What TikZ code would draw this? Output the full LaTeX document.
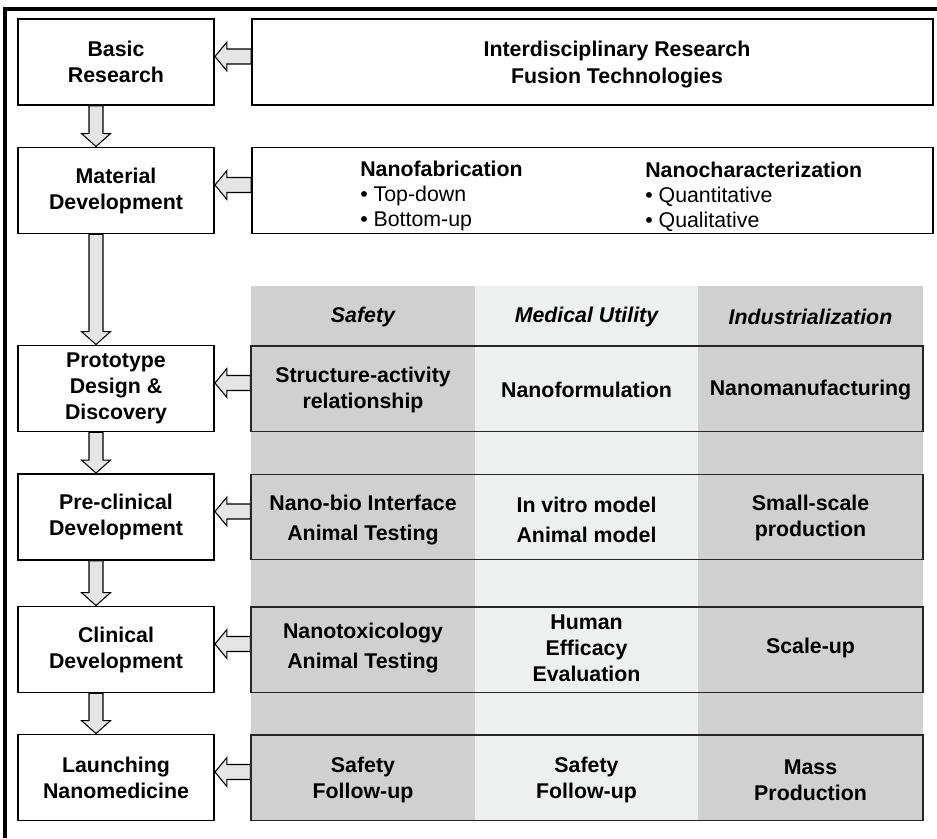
\documentclass[tikz,border=0pt]{standalone}
\usepackage{fontspec}
\setmainfont{Liberation Sans}
\usetikzlibrary{calc}
\pgfdeclarelayer{background}
\pgfsetlayers{background,main}
\definecolor{colgray}{HTML}{D0D0D0}
\definecolor{collight}{HTML}{EEF0EF}
\definecolor{arrowgray}{HTML}{E4E5E4}

% block arrow pointing down, from the bottom of #1 to the top of #2
\newcommand\vconn[2]{%
  \draw[blockarrow] ($(#1.south)+(-27,0)$) -- ($(#2.north)+(-27,-13)$)
    -- ($(#2.north)+(-34.5,-13)$) -- ($(#2.north)+(-20,0)$)
    -- ($(#2.north)+(-5.5,-13)$) -- ($(#2.north)+(-13,-13)$)
    -- ($(#1.south)+(-13,0)$) -- cycle;}
% block arrow pointing left, from the left side of #1 to the right side of #2
\newcommand\hconn[2]{%
  \draw[blockarrow] ($(#1.west)+(0,-13)$) -- ($(#2.east)+(12,-13)$)
    -- ($(#2.east)+(12,-20)$) -- ($(#2.east)+(0,-5.5)$)
    -- ($(#2.east)+(12,9)$) -- ($(#2.east)+(12,2)$)
    -- ($(#1.west)+(0,2)$) -- cycle;}
% fixed first-line height, so that a block can be placed by its top
\newcommand\firstline{\rule{0pt}{12pt}}

\begin{document}
\begin{tikzpicture}[x=0.75pt,y=-0.75pt,
  stage/.style={draw=black, line width=1.4pt, fill=white, minimum width=147pt,
    minimum height=64.5pt, inner sep=0pt, align=center,
    font=\bfseries\fontsize{16}{19.5}\selectfont},
  wide/.style={draw=black, line width=1.4pt, fill=white, minimum width=510.75pt,
    minimum height=64.5pt, inner sep=0pt},
  rowbox/.style={draw=black!85, line width=1pt, minimum width=504pt,
    minimum height=64pt, inner sep=0pt},
  cell/.style={inner sep=0pt, align=center,
    font=\bfseries\fontsize{16}{19.5}\selectfont},
  cellwide/.style={cell, font=\bfseries\fontsize{16}{22}\selectfont},
  head/.style={inner sep=0pt, font=\bfseries\itshape\fontsize{16}{19.5}\selectfont},
  listtext/.style={inner sep=0pt, anchor=north west, align=left,
    font=\fontsize{16}{18.75}\selectfont},
  blockarrow/.style={draw=black, line width=0.8pt, fill=arrowgray, line join=miter},
]
\useasboundingbox (0,0) rectangle (937,838);

% outer frame (top and left sides)
\draw[line width=3.5pt, line join=miter] (5,838) -- (5,9) -- (937,9);

% column shading
\fill[colgray]  (251,286) rectangle (475,820);
\fill[collight] (475,286) rectangle (698,820);
\fill[colgray]  (698,286) rectangle (923,820);

% stages
\node[stage] (basic) at (116,62)    {Basic\\Research};
\node[stage] (mat)   at (116,190.5) {Material\\Development};
\node[stage] (proto) at (116,388.5) {Prototype\\Design \&\\Discovery};
\node[stage] (pre)   at (116,517)   {Pre-clinical\\Development};
\node[stage] (clin)  at (116,649.5) {Clinical\\Development};
\node[stage] (launch) at (116,777.5) {Launching\\Nanomedicine};

% inputs of the first two stages
\node[wide] (fusion) at (592.5,62) {};
\node[cell, anchor=north, font=\bfseries\fontsize{16}{20.25}\selectfont] (fusiontxt) at (617,40)
  {\firstline Interdisciplinary Research\\Fusion Technologies};
\node[wide] (nano) at (592.5,190.5) {};
\node[listtext] (fab) at (360,160)
  {\firstline\textbf{Nanofabrication}\\\textbullet{} Top-down\\\textbullet{} Bottom-up};
\node[listtext] (char) at (645,161)
  {\firstline\textbf{Nanocharacterization}\\\textbullet{} Quantitative\\\textbullet{} Qualitative};

% column headings
\node[head] (hsafe) at (363,317)   {Safety};
\node[head] (hmed)  at (586.5,317) {Medical Utility};
\node[head] (hind)  at (810.5,317) {Industrialization};

% rows
\node[rowbox] (rproto)  at (587,388.5) {};
\node[rowbox] (rpre)    at (587,517)   {};
\node[rowbox] (rclin)   at (587,649.5) {};
\node[rowbox] (rlaunch) at (587,777.5) {};

\node[cell] (p1) at (363,390)   {Structure-activity\\relationship};
\node[cell] (p2) at (586.5,390) {Nanoformulation};
\node[cell] (p3) at (810.5,390) {Nanomanufacturing};

\node[cellwide] (q1) at (363,520)   {Nano-bio Interface\\Animal Testing};
\node[cellwide] (q2) at (586.5,520) {In vitro model\\Animal model};
\node[cell]     (q3) at (810.5,518) {Small-scale\\production};

\node[cellwide] (c1) at (363,648)   {Nanotoxicology\\Animal Testing};
\node[cell]     (c2) at (586.5,648) {Human\\Efficacy\\Evaluation};
\node[cell]     (c3) at (810.5,648) {Scale-up};

\node[cell] (l1) at (363,780)   {Safety\\Follow-up};
\node[cell] (l2) at (586.5,780) {Safety\\Follow-up};
\node[cell] (l3) at (810.5,780) {Mass\\Production};

% arrows
\begin{pgfonlayer}{background}
\vconn{basic}{mat}
\vconn{mat}{proto}
\vconn{proto}{pre}
\vconn{pre}{clin}
\vconn{clin}{launch}
\hconn{fusion}{basic}
\hconn{nano}{mat}
\hconn{rproto}{proto}
\hconn{rpre}{pre}
\hconn{rclin}{clin}
\hconn{rlaunch}{launch}
\end{pgfonlayer}
\end{tikzpicture}
\end{document}
